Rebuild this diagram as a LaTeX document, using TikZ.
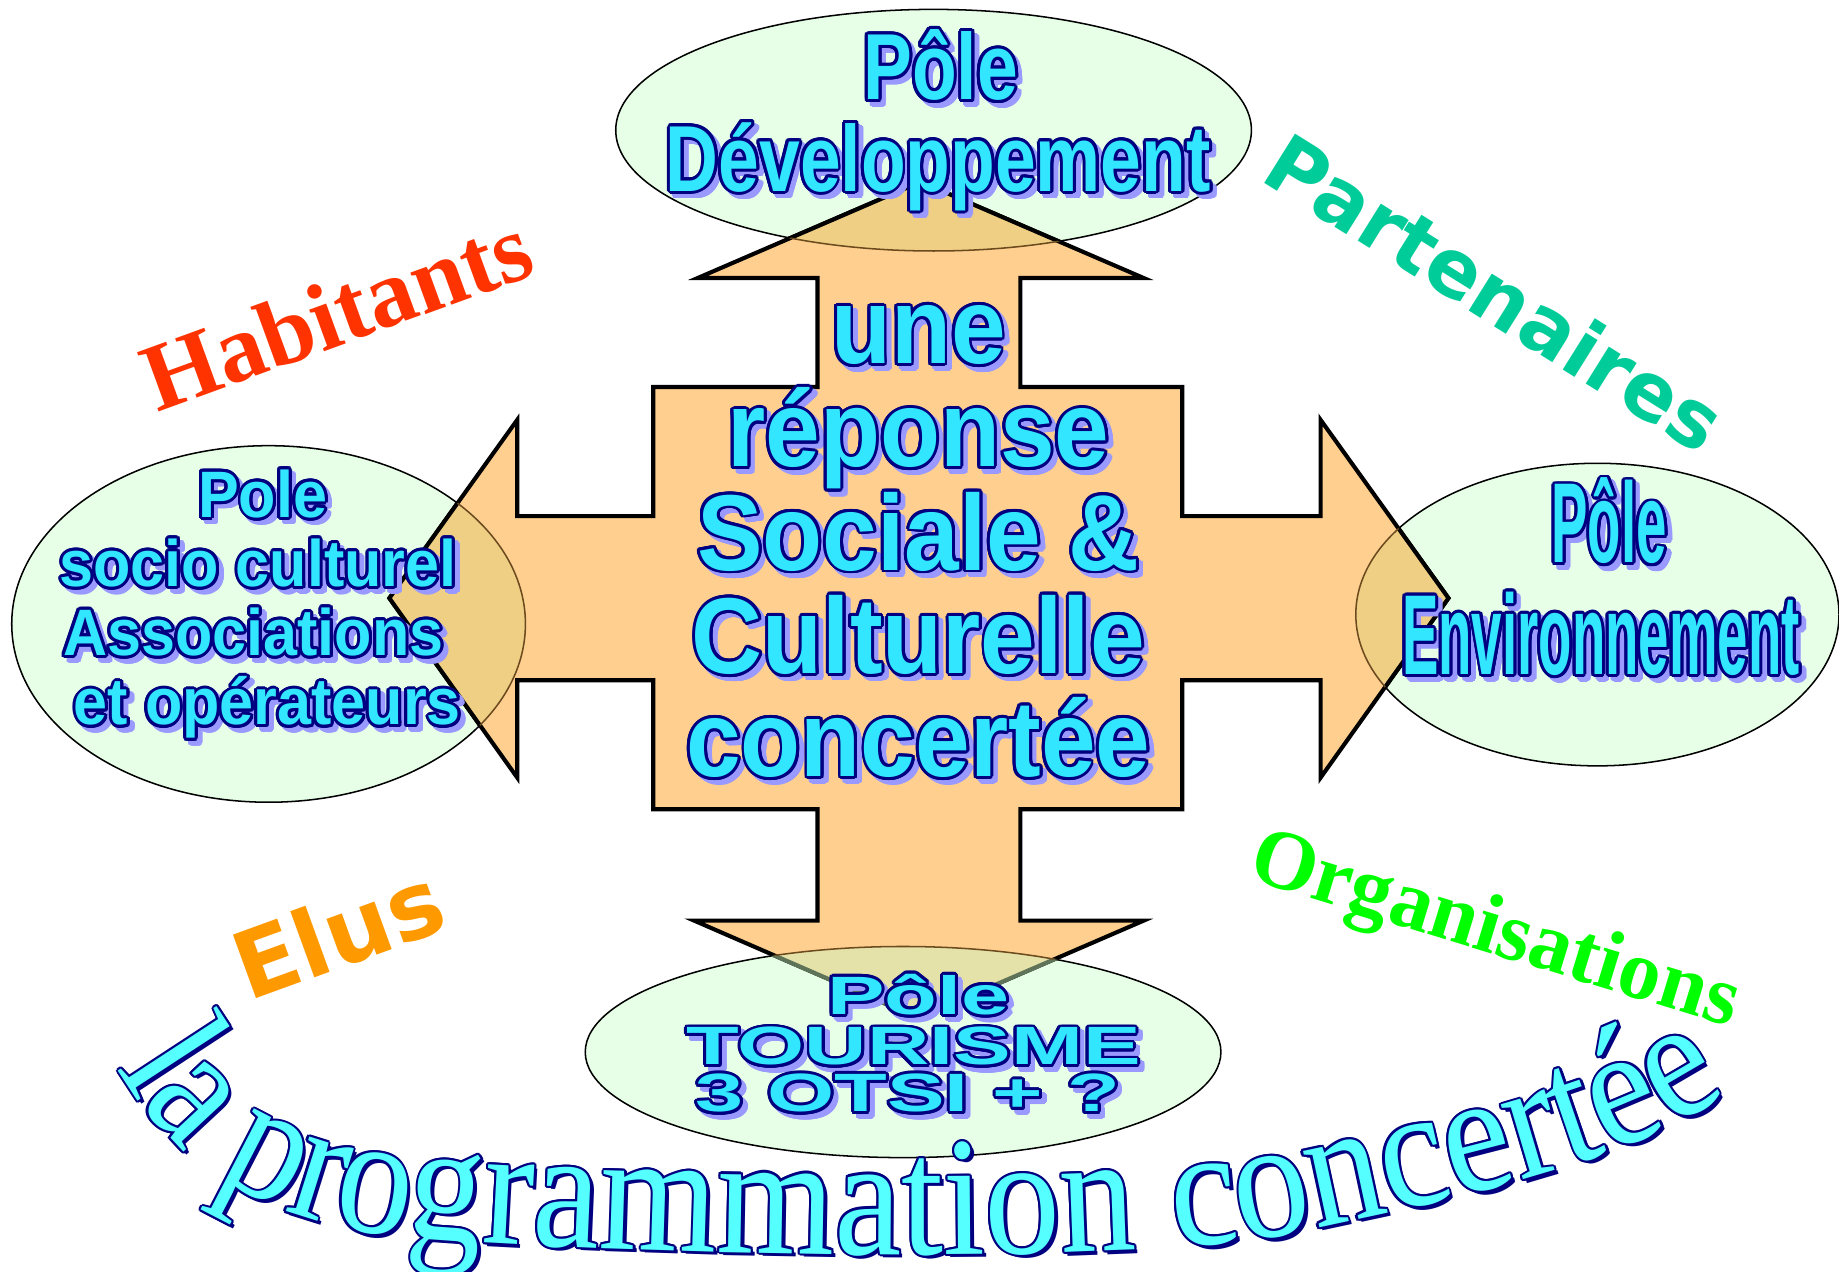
\documentclass[tikz,border=0pt]{standalone}
\usepackage{fontspec}
\usepackage{contour}
\usetikzlibrary{shapes.geometric,decorations.text}
\newfontfamily\fcenter{Liberation Sans}[FakeStretch=0.91]
\newfontfamily\ftop{Liberation Sans}[FakeStretch=0.78]
\newfontfamily\fleft{Liberation Sans}[FakeStretch=0.93]
\newfontfamily\fright{Liberation Sans}[FakeStretch=0.48]
\newfontfamily\fbot{Liberation Sans}[FakeStretch=1.6]
\newfontfamily\farc{Liberation Serif}[FakeStretch=0.89]
\newfontfamily\fserif{Liberation Serif}
\newfontfamily\fdeja{DejaVu Sans}
\definecolor{orangec}{HTML}{FFCF8F}
\definecolor{overc}{HTML}{EFCF84}
\definecolor{overbc}{HTML}{E4E2A8}
\definecolor{linebc}{HTML}{5F7358}
\definecolor{brownc}{HTML}{6B4A1E}
\definecolor{polec}{HTML}{E6FFE6}
\definecolor{cyanc}{HTML}{33E6FF}
\definecolor{navyc}{HTML}{000080}
\definecolor{shadowc}{HTML}{9999FF}
\definecolor{arccyan}{HTML}{55FFFF}
\definecolor{habc}{HTML}{FF3300}
\definecolor{partc}{HTML}{00CC99}
\definecolor{elusc}{HTML}{FF9900}
\definecolor{orgc}{HTML}{00FF00}
\contourlength{2.5pt}
\contournumber{20}
\newcommand\Fc{\fcenter\bfseries\fontsize{92}{100}\selectfont}
\newcommand\Ft{\ftop\bfseries\fontsize{80}{88}\selectfont}
\newcommand\Fl{\fleft\bfseries\fontsize{56}{60}\selectfont}
\newcommand\Fr{\fright\bfseries\fontsize{97}{100}\selectfont}
\newcommand\Fb{\fbot\bfseries\fontsize{46}{50}\selectfont}
\newcommand\Farc{\farc\fontsize{14.5}{15}\selectfont}
\newcommand\fxline[5]{%
  \node[fxbase, font={#4}, text=shadowc] at (#2+4,#3+4) {\contour{shadowc}{#5}};
  \node[fxbase, font={#4}, text=cyanc] (#1) at (#2,#3) {\contour{navyc}{#5}};}
\begin{document}
\begin{tikzpicture}[x=1pt,y=-1pt,
  pole/.style={draw=black, line width=1.3pt, fill=polec, ellipse, inner sep=0pt},
  crossp/.style={insert path={(785,155) -- (975,237) -- (870,237) -- (870,330) -- (1008,330) -- (1008,440) -- (1126,440) -- (1126,358) -- (1235,510) -- (1126,663) -- (1126,580) -- (1008,580) -- (1008,690) -- (870,690) -- (870,785) -- (975,785) -- (783,868) -- (592,785) -- (697,785) -- (697,690) -- (557,690) -- (557,580) -- (441,580) -- (441,663) -- (332,510) -- (441,358) -- (441,440) -- (557,440) -- (557,330) -- (697,330) -- (697,237) -- (595,237) -- cycle}},
  fxbase/.style={anchor=base, inner sep=0pt},
  lbl/.style={inner sep=0pt, anchor=center}]
\fill[white] (0,0) rectangle (1568,1084);
\useasboundingbox (0,0) rectangle (1568,1084);
% ellipses
\node[pole, minimum width=542pt, minimum height=206pt] (pdev) at (796,111) {};
\node[pole, minimum width=438pt, minimum height=304pt] (psoc) at (229,532) {};
\node[pole, minimum width=412pt, minimum height=258pt] (penv) at (1362,524) {};
\node[pole, minimum width=542pt, minimum height=180pt] (ptour) at (770,897) {};
% cross arrow
\path[crossp, fill=orangec, draw=black, line width=3.5pt, line join=miter];
\foreach \e/\rx/\ry/\fc/\lc in {pdev/271/103/overc/black, psoc/219/152/overc/black, penv/206/129/overc/black, ptour/271/90/overbc/linebc} {
  \begin{scope}
    \path[clip] (\e.center) ellipse [x radius=\rx pt, y radius=\ry pt];
    \path[crossp, fill=\fc, draw=\lc, line width=3.5pt, line join=miter];
  \end{scope}
}
\begin{scope}
  \path[clip, crossp];
  \foreach \e/\rx/\ry in {pdev/271/103, psoc/219/152, penv/206/129, ptour/271/90}
    \draw[brownc, line width=1.3pt] (\e.center) ellipse [x radius=\rx pt, y radius=\ry pt];
\end{scope}
% centre text
\fxline{c1}{783}{310}{\Fc}{une}
\fxline{c2}{783}{398}{\Fc}{réponse}
\fxline{c3}{783}{486}{\Fc}{Sociale \&}
\fxline{c4}{783}{574}{\Fc}{Culturelle}
\fxline{c5}{783}{662}{\Fc}{concertée}
% poles
\fxline{t1}{802}{85}{\Ft}{Pôle}
\fxline{t2}{800}{163}{\Ft}{Développement}
\fxline{l1}{224}{441}{\Fl}{Pole}
\fxline{l2}{220}{500}{\Fl}{socio culturel}
\fxline{l3}{216}{559}{\Fl}{Associations}
\fxline{l4}{228}{618}{\Fl}{et opérateurs}
\fxline{r1}{1372}{480}{\Fr}{Pôle}
\fxline{r2}{1365}{575}{\Fr}{Environnement}
\fxline{b1}{783}{865}{\Fb}{Pôle}
\fxline{b2}{779}{908}{\Fb}{TOURISME}
\fxline{b3}{774}{948}{\Fb}{3 OTSI + ?}
% actors
\node[lbl, text=habc, font=\fserif\bfseries\fontsize{82}{84}\selectfont, rotate=20] (hab) at (287,266) {Habitants};
\node[lbl, text=partc, font=\fdeja\bfseries\fontsize{68}{70}\selectfont, rotate=-32] (part) at (1275,249) {Partenaires};
\node[lbl, text=elusc, font=\fdeja\bfseries\fontsize{79}{80}\selectfont, rotate=20] (elus) at (288,795) {Elus};
\node[lbl, text=orgc, font=\fserif\bfseries\fontsize{72}{74}\selectfont, rotate=-17] (org) at (1274,796) {Organisations};
% arched title (drawn at 1/10 size, canvas scaled by 10)
\begin{scope}[transform canvas={scale=10}]
\foreach \sx/\sy/\col in {0.3/0.3/navyc, 0.18/0/navyc, 0.156/0.09/navyc, 0.09/0.156/navyc, 0/0.18/navyc, -0.09/0.156/navyc, -0.156/0.09/navyc, -0.18/0/navyc, -0.156/-0.09/navyc, -0.09/-0.156/navyc, 0/-0.18/navyc, 0.09/-0.156/navyc, 0.156/-0.09/navyc, 0/0/arccyan} {
  \begin{scope}[shift={(\sx,\sy)}]
    \path[decorate, decoration={text along path, text color=\col, text align=center,
      text={|\Farc|la programmation concertée}}]
      (8.5,88) .. controls (13,98.5) and (22,104) .. (33,105.3)
      .. controls (44,106.6) and (95,108.3) .. (110,105.2)
      .. controls (127,101.6) and (142,98.5) .. (150,91);
  \end{scope}
}
\end{scope}
\end{tikzpicture}
\end{document}
